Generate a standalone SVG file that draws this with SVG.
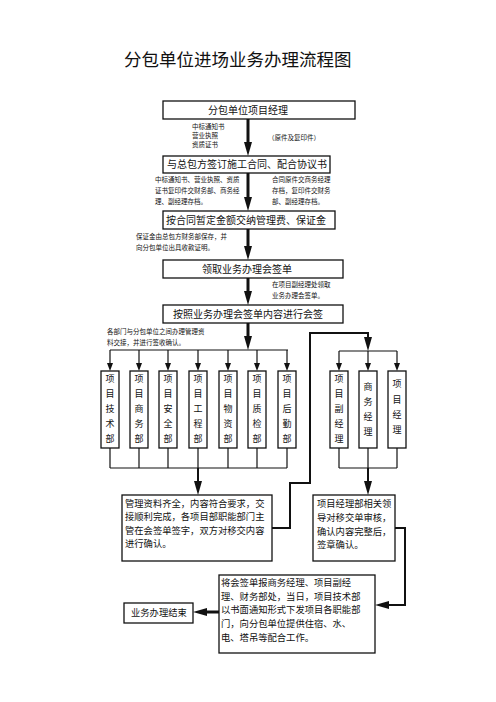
<svg xmlns="http://www.w3.org/2000/svg" width="496" height="702" viewBox="0 0 496 702">
<style>
text{font-family:"Noto Sans CJK SC","Noto Sans",sans-serif;fill:#111}
.title{font-size:17.5px}
.bt{font-size:10px}
.sm{font-size:6.5px}
.col{font-size:9px}
.para{font-size:9.3px}
rect{fill:#fff;stroke:#111;stroke-width:1.3}
.thick{stroke:#111;stroke-width:3;fill:none}
.mid{stroke:#111;stroke-width:2;fill:none}
.thin{stroke:#111;stroke-width:1.2;fill:none}
</style>
<defs>
<marker id="big" viewBox="0 0 14 8" refX="0" refY="4" markerWidth="14" markerHeight="8" markerUnits="userSpaceOnUse" orient="auto"><path d="M0,0 L14,4 L0,8 z" fill="#111"/></marker>
<marker id="sml" viewBox="0 0 8 6" refX="0" refY="3" markerWidth="8" markerHeight="6" markerUnits="userSpaceOnUse" orient="auto"><path d="M0,0 L8,3 L0,6 z" fill="#111"/></marker>
</defs>
<rect x="0" y="0" width="496" height="702" style="fill:#fff;stroke:none"/>
<text class="title" x="124" y="66">分包单位进场业务办理流程图</text>

<g id="connectors">
<line class="thick" x1="248" y1="119" x2="248" y2="142" marker-end="url(#big)"/>
<line class="thick" x1="248" y1="173" x2="248" y2="197" marker-end="url(#big)"/>
<line class="thick" x1="248" y1="229" x2="248" y2="246" marker-end="url(#big)"/>
<line class="thick" x1="248" y1="278" x2="248" y2="291" marker-end="url(#big)"/>
<line class="thick" x1="248" y1="323" x2="248" y2="336" marker-end="url(#big)"/>
<path class="thin" d="M110,350 H288"/>
<line class="thin" x1="110" y1="350" x2="110" y2="363" marker-end="url(#sml)"/>
<line class="thin" x1="139" y1="350" x2="139" y2="363" marker-end="url(#sml)"/>
<line class="thin" x1="168" y1="350" x2="168" y2="363" marker-end="url(#sml)"/>
<line class="thin" x1="198" y1="350" x2="198" y2="363" marker-end="url(#sml)"/>
<line class="thin" x1="228" y1="350" x2="228" y2="363" marker-end="url(#sml)"/>
<line class="thin" x1="257" y1="350" x2="257" y2="363" marker-end="url(#sml)"/>
<line class="thin" x1="287" y1="350" x2="287" y2="363" marker-end="url(#sml)"/>
<path class="thin" d="M110,448 V468 M139,448 V468 M168,448 V468 M198,448 V468 M228,448 V468 M257,448 V468 M287,448 V468 M110,468 H287"/>
<line class="mid" x1="198" y1="468" x2="198" y2="481" marker-end="url(#big)"/>
<path class="mid" d="M272,528 H290 V483 H310 V333 H368 V337"/>
<line class="mid" x1="368" y1="333" x2="368" y2="337" marker-end="url(#big)"/>
<path class="thin" d="M339,351 H397"/>
<line class="thin" x1="339" y1="351" x2="339" y2="363" marker-end="url(#sml)"/>
<line class="thin" x1="368" y1="351" x2="368" y2="363" marker-end="url(#sml)"/>
<line class="thin" x1="397" y1="351" x2="397" y2="363" marker-end="url(#sml)"/>
<path class="thin" d="M339,448 V468 M368,448 V468 M397,448 V468 M339,468 H397"/>
<line class="mid" x1="368" y1="468" x2="368" y2="481" marker-end="url(#big)"/>
<path class="mid" d="M395,528 H405 V605 H389"/>
<line class="mid" x1="390" y1="605" x2="389" y2="605" marker-end="url(#big)"/>
<line class="thick" x1="219" y1="612" x2="207" y2="612" marker-end="url(#big)"/>
</g>

<g id="n1"><rect x="163" y="101" width="192" height="18"/><text class="bt" x="208" y="114">分包单位项目经理</text></g>
<g id="l1"><text class="sm" x="192" y="129">中标通知书</text><text class="sm" x="192" y="138">营业执照</text><text class="sm" x="192" y="147">资质证书</text><text class="sm" x="268" y="140">（原件及复印件）</text></g>
<g id="n2"><rect x="163" y="156" width="167" height="17"/><text class="bt" x="167" y="168">与总包方签订施工合同、配合协议书</text></g>
<g id="l2"><text class="sm" x="155" y="182">中标通知书、营业执照、资质</text><text class="sm" x="155" y="193">证书复印件交财务部、商务经</text><text class="sm" x="155" y="204">理、副经理存档。</text><text class="sm" x="272" y="182">合同原件交商务经理</text><text class="sm" x="272" y="193">存档，复印件交财务</text><text class="sm" x="272" y="204">部、副经理存档。</text></g>
<g id="n3"><rect x="163" y="211" width="172" height="18"/><text class="bt" x="166" y="224">按合同暂定金额交纳管理费、保证金</text></g>
<g id="l3"><text class="sm" x="136" y="239">保证金由总包方财务部保存，并</text><text class="sm" x="136" y="250">向分包单位出具收款证明。</text></g>
<g id="n4"><rect x="163" y="260" width="180" height="18"/><text class="bt" x="202" y="273">领取业务办理会签单</text></g>
<g id="l4"><text class="sm" x="272" y="287">在项目副经理处领取</text><text class="sm" x="272" y="298">业务办理会签单。</text></g>
<g id="n5"><rect x="163" y="305" width="180" height="18"/><text class="bt" x="173" y="318">按照业务办理会签单内容进行会签</text></g>
<g id="l5"><text class="sm" x="107" y="334">各部门与分包单位之间办理管理资</text><text class="sm" x="107" y="345">料交接，并进行签收确认。</text></g>

<g id="c1"><rect x="101" y="371" width="18" height="77"/><text class="col" text-anchor="middle" x="110" y="382">项</text><text class="col" text-anchor="middle" x="110" y="397">目</text><text class="col" text-anchor="middle" x="110" y="412">技</text><text class="col" text-anchor="middle" x="110" y="427">术</text><text class="col" text-anchor="middle" x="110" y="442">部</text></g>
<g id="c2"><rect x="130" y="371" width="18" height="77"/><text class="col" text-anchor="middle" x="139" y="382">项</text><text class="col" text-anchor="middle" x="139" y="397">目</text><text class="col" text-anchor="middle" x="139" y="412">商</text><text class="col" text-anchor="middle" x="139" y="427">务</text><text class="col" text-anchor="middle" x="139" y="442">部</text></g>
<g id="c3"><rect x="159" y="371" width="18" height="77"/><text class="col" text-anchor="middle" x="168" y="382">项</text><text class="col" text-anchor="middle" x="168" y="397">目</text><text class="col" text-anchor="middle" x="168" y="412">安</text><text class="col" text-anchor="middle" x="168" y="427">全</text><text class="col" text-anchor="middle" x="168" y="442">部</text></g>
<g id="c4"><rect x="189" y="371" width="18" height="77"/><text class="col" text-anchor="middle" x="198" y="382">项</text><text class="col" text-anchor="middle" x="198" y="397">目</text><text class="col" text-anchor="middle" x="198" y="412">工</text><text class="col" text-anchor="middle" x="198" y="427">程</text><text class="col" text-anchor="middle" x="198" y="442">部</text></g>
<g id="c5"><rect x="219" y="371" width="18" height="77"/><text class="col" text-anchor="middle" x="228" y="382">项</text><text class="col" text-anchor="middle" x="228" y="397">目</text><text class="col" text-anchor="middle" x="228" y="412">物</text><text class="col" text-anchor="middle" x="228" y="427">资</text><text class="col" text-anchor="middle" x="228" y="442">部</text></g>
<g id="c6"><rect x="248" y="371" width="18" height="77"/><text class="col" text-anchor="middle" x="257" y="382">项</text><text class="col" text-anchor="middle" x="257" y="397">目</text><text class="col" text-anchor="middle" x="257" y="412">质</text><text class="col" text-anchor="middle" x="257" y="427">检</text><text class="col" text-anchor="middle" x="257" y="442">部</text></g>
<g id="c7"><rect x="278" y="371" width="18" height="77"/><text class="col" text-anchor="middle" x="287" y="382">项</text><text class="col" text-anchor="middle" x="287" y="397">目</text><text class="col" text-anchor="middle" x="287" y="412">后</text><text class="col" text-anchor="middle" x="287" y="427">勤</text><text class="col" text-anchor="middle" x="287" y="442">部</text></g>

<g id="r1"><rect x="330" y="371" width="18" height="77"/><text class="col" text-anchor="middle" x="339" y="382">项</text><text class="col" text-anchor="middle" x="339" y="397">目</text><text class="col" text-anchor="middle" x="339" y="412">副</text><text class="col" text-anchor="middle" x="339" y="427">经</text><text class="col" text-anchor="middle" x="339" y="442">理</text></g>
<g id="r2"><rect x="359" y="371" width="18" height="77"/><text class="col" text-anchor="middle" x="368" y="390">商</text><text class="col" text-anchor="middle" x="368" y="405">务</text><text class="col" text-anchor="middle" x="368" y="420">经</text><text class="col" text-anchor="middle" x="368" y="435">理</text></g>
<g id="r3"><rect x="388" y="371" width="18" height="77"/><text class="col" text-anchor="middle" x="397" y="387">项</text><text class="col" text-anchor="middle" x="397" y="403">目</text><text class="col" text-anchor="middle" x="397" y="418">经</text><text class="col" text-anchor="middle" x="397" y="433">理</text></g>

<g id="n6"><rect x="122" y="495" width="150" height="66"/><text class="para" x="125" y="507">管理资料齐全，内容符合要求，交</text><text class="para" x="125" y="520">接顺利完成，各项目部职能部门主</text><text class="para" x="125" y="534">管在会签单签字，双方对移交内容</text><text class="para" x="125" y="547">进行确认。</text></g>
<g id="n7"><rect x="313" y="495" width="82" height="66"/><text class="para" x="317" y="507">项目经理部相关领</text><text class="para" x="317" y="521">导对移交单审核，</text><text class="para" x="317" y="535">确认内容完整后，</text><text class="para" x="317" y="548">签章确认。</text></g>
<g id="n8"><rect x="219" y="575" width="156" height="78"/><text class="para" x="221" y="586">将会签单报商务经理、项目副经</text><text class="para" x="221" y="600">理、财务部处，当日，项目技术部</text><text class="para" x="221" y="613">以书面通知形式下发项目各职能部</text><text class="para" x="221" y="627">门，向分包单位提供住宿、水、</text><text class="para" x="221" y="641">电、塔吊等配合工作。</text></g>
<g id="n9"><rect x="124" y="603" width="69" height="20"/><text class="para" x="131" y="616">业务办理结束</text></g>
</svg>
